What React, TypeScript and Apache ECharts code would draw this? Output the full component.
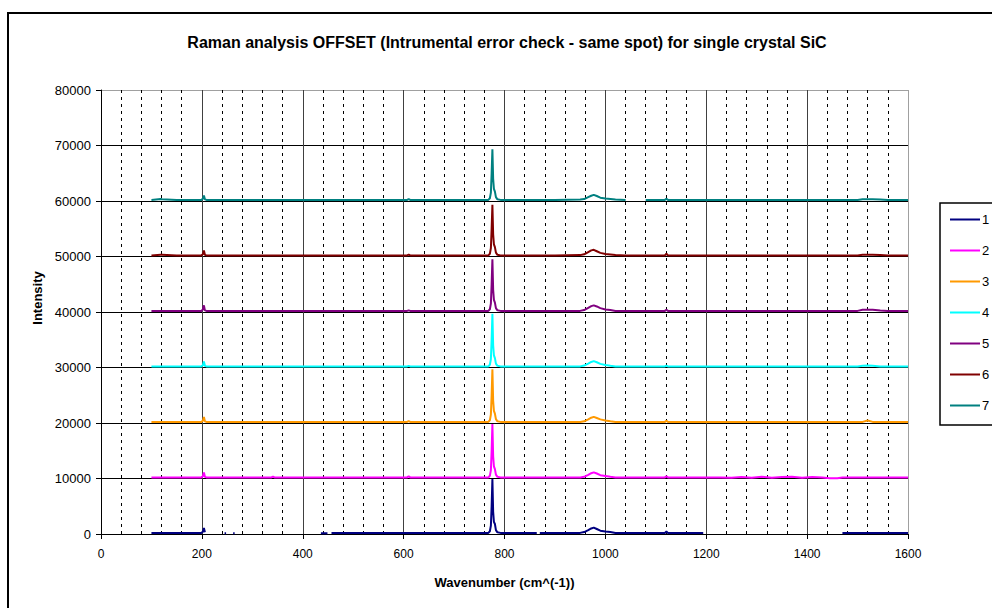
import React, { useEffect, useRef } from "react";
import * as echarts from "echarts";

const titleText = "Raman analysis OFFSET (Intrumental error check - same spot) for single crystal SiC";
const xAxisTitle = "Wavenumber (cm^(-1))";
const yAxisTitle = "Intensity";

const seriesNames = ["1", "2", "3", "4", "5", "6", "7"];
const seriesColors = ["#000080", "#ff00ff", "#ff9900", "#00ffff", "#800080", "#800000", "#008080"];
const offsets = [0, 10000, 20000, 30000, 40000, 50000, 60000];

// shared wavenumber sampling (cm^-1)
const wavenumbers = [
  100, 118, 121, 150, 199, 202, 204, 206, 209,
  245, 248, 255, 262, 265,
  300, 338, 341, 344, 400,
  436, 449, 453, 457, 500,
  607, 610, 613, 700, 760,
  768, 771, 773, 774.5, 776, 777.5, 779, 781, 783, 786, 792,
  800, 864, 867, 870, 900,
  950, 958, 966, 972, 977, 983, 990, 1000, 1010, 1020,
  1040, 1060, 1080, 1100,
  1118, 1121, 1124, 1194, 1200,
  1230, 1250, 1270, 1290, 1310, 1330, 1350, 1370, 1390, 1410, 1430, 1445, 1460,
  1470, 1500, 1510, 1520, 1530, 1545, 1560, 1600,
];

// intensities above each spectrum's offset (null = no reading)
const s1 = [
  200, 200, 200, 200, 200, 400, 1100, 300, null,
  150, 150, null, 150, 150,
  null, null, null, null, null,
  150, 150, null, 200, 200,
  200, 200, 200, 200, 200,
  200, 500, 1500, 5000, 9900, 4000, 2200, 1800, 700, 300, 200,
  200, 200, null, 200, 200,
  200, 350, 700, 1000, 1150, 900, 600, 450, 350, 200,
  200, 200, 200, 200,
  200, 450, 200, 200, null,
  null, null, null, null, null, null, null, null, null, null, null, null, null,
  200, 200, 200, 200, 200, 200, 200, 200,
];
const s2 = [
  200, 200, 200, 200, 200, 400, 1100, 300, 200,
  200, 200, 200, 200, 200,
  200, 200, 350, 200, 200,
  200, 200, 200, 200, 200,
  200, 400, 200, 200, 200,
  200, 500, 1500, 5000, 9800, 4000, 2200, 1700, 700, 300, 200,
  200, 200, 200, 200, 200,
  200, 300, 650, 950, 1100, 900, 600, 450, 300, 200,
  200, 200, 200, 200,
  200, 400, 200, 200, 200,
  200, 120, 280, 150, 300, 130, 260, 320, 140, 280, 180, 40, 60,
  200, 200, 200, 200, 200, 200, 200, 200,
];
const s3 = [
  200, 200, 200, 200, 200, 400, 1100, 300, 200,
  200, 200, 200, 200, 200,
  200, 200, 200, 200, 200,
  200, 200, 200, 200, 200,
  200, 350, 200, 200, 200,
  200, 500, 1500, 5000, 9700, 4000, 2200, 1700, 700, 300, 200,
  200, 200, 200, 200, 200,
  200, 300, 650, 950, 1100, 900, 650, 450, 300, 200,
  200, 200, 200, 200,
  200, 400, 200, 200, 200,
  200, 200, 200, 200, 200, 200, 200, 200, 200, 200, 200, 200, 200,
  200, 200, 200, 450, 200, 200, 200, 200,
];
const s4 = [
  200, 200, 200, 200, 200, 400, 1100, 300, 200,
  200, 200, 200, 200, 200,
  200, 200, 200, 200, 200,
  200, 200, 200, 200, 200,
  200, 300, 200, 200, 200,
  200, 500, 1500, 5000, 9700, 4000, 2200, 1700, 700, 300, 200,
  200, 200, 200, 200, 200,
  200, 350, 700, 1000, 1150, 950, 650, 450, 300, 200,
  200, 200, 200, 200,
  200, 350, 200, 200, 200,
  200, 200, 200, 200, 200, 200, 200, 200, 200, 200, 200, 200, 200,
  200, 200, 300, 350, 300, 200, 200, 200,
];
const s5 = [
  200, 200, 200, 200, 200, 450, 1200, 300, 200,
  200, 200, 200, 200, 200,
  200, 200, 200, 200, 200,
  200, 200, 200, 200, 200,
  200, 300, 200, 200, 200,
  200, 500, 1500, 5000, 9500, 4000, 2200, 1700, 700, 300, 200,
  200, 200, 200, 200, 200,
  200, 350, 750, 1050, 1200, 1000, 700, 450, 350, 200,
  200, 200, 200, 200,
  200, 400, 200, 200, 200,
  200, 200, 200, 200, 200, 200, 200, 200, 200, 200, 200, 200, 200,
  200, 200, 400, 420, 400, 250, 200, 200,
];
const s6 = [
  200, 300, 300, 200, 200, 400, 1100, 300, 200,
  200, 200, 200, 200, 200,
  200, 200, 200, 200, 200,
  200, 200, 200, 200, 200,
  200, 350, 200, 200, 200,
  200, 500, 1500, 5000, 9300, 4000, 2200, 1700, 700, 300, 200,
  200, 200, 200, 200, 200,
  250, 400, 800, 1100, 1200, 950, 650, 450, 350, 250,
  200, 200, 200, 200,
  200, 500, 200, 200, 200,
  200, 200, 200, 200, 200, 200, 200, 200, 200, 200, 200, 200, 200,
  200, 200, 300, 300, 300, 250, 200, 200,
];
const s7 = [
  200, 350, 300, 200, 200, 400, 1000, 300, 200,
  200, 200, 200, 200, 200,
  200, 200, 200, 200, 200,
  200, 200, 200, 200, 200,
  200, 350, 200, 200, 200,
  200, 500, 1500, 5000, 9300, 4000, 2200, 1700, 700, 300, 200,
  200, 200, 200, 200, 200,
  250, 350, 700, 950, 1100, 900, 600, 450, 350, 250,
  200, null, 200, 200,
  200, 400, 200, 200, 200,
  200, 200, 200, 200, 200, 200, 200, 200, 200, 200, 200, 200, 200,
  200, 200, 300, 300, 300, 250, 200, 200,
];
const spectra = [s1, s2, s3, s4, s5, s6, s7];

const xTicks = { min: 0, max: 1600, interval: 200 };
const yTicks = { min: 0, max: 80000, interval: 10000 };

const FONT = "'Liberation Sans', Arial, sans-serif";

export default function App() {
  const ref = useRef<HTMLDivElement>(null);
  useEffect(() => {
    if (!ref.current) return;
    const chart = echarts.init(ref.current, null, { renderer: "svg" });
    const series = spectra.map((vals, si) => ({
      name: seriesNames[si],
      type: "line",
      symbol: "none",
      showSymbol: false,
      connectNulls: false,
      color: seriesColors[si],
      lineStyle: { width: 2, color: seriesColors[si] },
      data: wavenumbers.map((x, i) => [x, vals[i] == null ? "-" : (vals[i] as number) + offsets[si]]),
    }));
    chart.setOption({
      animation: false,
      backgroundColor: "#ffffff",
      textStyle: { fontFamily: FONT },
      title: {
        text: titleText,
        left: 507,
        top: 34,
        textAlign: "center",
        padding: 0,
        textStyle: { fontFamily: FONT, fontSize: 16, fontWeight: "bold", color: "#000" },
      },
      grid: { left: 101, right: 84, top: 90, bottom: 74, containLabel: false },
      legend: {
        orient: "vertical",
        left: 950,
        top: 213,
        padding: 0,
        itemWidth: 30,
        itemHeight: 2,
        itemGap: 18,
        icon: "rect",
        data: seriesNames,
        textStyle: { fontFamily: FONT, fontSize: 13, color: "#000", padding: [0, 0, 0, -3] },
      },
      xAxis: {
        type: "value",
        min: xTicks.min,
        max: xTicks.max,
        interval: xTicks.interval,
        name: xAxisTitle,
        nameLocation: "middle",
        nameGap: 42,
        nameTextStyle: { fontFamily: FONT, fontSize: 13, fontWeight: "bold", color: "#000" },
        axisLine: { show: true, onZero: false, lineStyle: { color: "#000", width: 1 } },
        axisTick: { show: true, inside: false, length: 5, lineStyle: { color: "#000" } },
        axisLabel: { margin: 14, fontFamily: FONT, fontSize: 12, color: "#000", formatter: (v: number) => String(v) },
        splitLine: {
          show: true,
          lineStyle: {
            color: ["#000", "#404040", "#404040", "#404040", "#404040", "#404040", "#404040", "#404040", "#a0a0a0"],
            width: 1,
          },
        },
        minorTick: { show: false, splitNumber: 5 },
        minorSplitLine: { show: true, lineStyle: { color: "#000", width: 1, type: [3, 4] } },
      },
      yAxis: {
        type: "value",
        min: yTicks.min,
        max: yTicks.max,
        interval: yTicks.interval,
        name: yAxisTitle,
        nameLocation: "middle",
        nameGap: 56,
        nameRotate: 90,
        nameTextStyle: { fontFamily: FONT, fontSize: 13, fontWeight: "bold", color: "#000", padding: [0, 0, 0, 28] },
        axisLine: { show: true, onZero: false, lineStyle: { color: "#000", width: 1 } },
        axisTick: { show: true, inside: false, length: 5, lineStyle: { color: "#000" } },
        axisLabel: { margin: 10, fontFamily: FONT, fontSize: 13, color: "#000", formatter: (v: number) => String(v) },
        splitLine: {
          show: true,
          lineStyle: {
            color: ["#000", "#000", "#000", "#000", "#000", "#000", "#000", "#000", "#a0a0a0"],
            width: 1,
          },
        },
      },
      graphic: [
        {
          type: "rect",
          z: 0,
          silent: true,
          shape: { x: 8, y: 13, width: 1000, height: 620 },
          style: { fill: "none", stroke: "#000", lineWidth: 2 },
        },
        {
          type: "rect",
          z: 0,
          silent: true,
          shape: { x: 940, y: 203, width: 70, height: 222 },
          style: { fill: "none", stroke: "#000", lineWidth: 1.5 },
        },
      ],
      series,
    });
    return () => chart.dispose();
  }, []);
  return (
    <div
      ref={ref}
      style={{ position: "absolute", left: 0, top: 0, width: 992, height: 608, background: "#fff" }}
    />
  );
}
